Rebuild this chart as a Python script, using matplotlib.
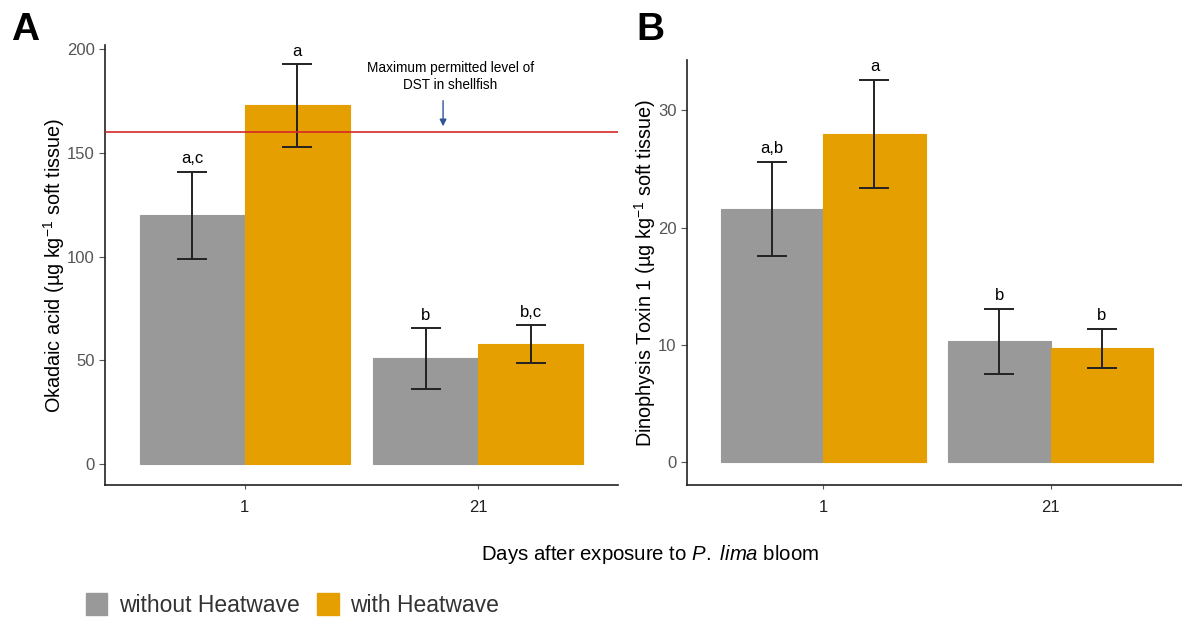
import matplotlib.pyplot as plt
import numpy as np
from matplotlib.patches import Patch

plt.rcParams['font.family'] = ['Liberation Sans', 'DejaVu Sans']
plt.rcParams['mathtext.fontset'] = 'custom'
plt.rcParams['mathtext.rm'] = 'Liberation Sans'
plt.rcParams['mathtext.it'] = 'Liberation Sans:italic'
plt.rcParams['mathtext.default'] = 'regular'

days = ['1', '21']
groups = ['without Heatwave', 'with Heatwave']
colors = ['#999999', '#E69F00']

# okadaic acid, µg/kg
oa_mean = [[120, 51], [173, 58]]
oa_err = [[21, 14.5], [20, 9]]
oa_letters = [['a,c', 'b'], ['a', 'b,c']]
oa_limit = 160

# dinophysis toxin 1, µg/kg
dtx_mean = [[21.6, 10.3], [28.0, 9.7]]
dtx_err = [[4.0, 2.75], [4.6, 1.65]]
dtx_letters = [['a,b', 'b'], ['a', 'b']]

fig = plt.figure(figsize=(11.82, 6.2), dpi=100)
ax1 = fig.add_axes([0.0888, 0.2177, 0.434, 0.7097])
ax2 = fig.add_axes([0.5812, 0.2177, 0.423, 0.6855])

x = np.arange(len(days))
w = 0.45


def draw_panel(ax, means, errs, letters, ylim, yticks, ylabel, pad):
    for i in range(2):
        pos = x + (i - 0.5) * w
        ax.bar(pos, means[i], width=w, color=colors[i], edgecolor=colors[i],
               linewidth=0.8, zorder=2)
        ax.errorbar(pos, means[i], yerr=errs[i], fmt='none', ecolor='#222222',
                    elinewidth=1.4, capsize=10.8, capthick=1.4, zorder=3)
        for p, m, e, lab in zip(pos, means[i], errs[i], letters[i]):
            ax.text(p, m + e + pad, lab, ha='center', va='bottom',
                    fontsize=12, color='black')
    ax.set_xlim(-0.6, 1.6)
    ax.set_ylim(*ylim)
    ax.set_yticks(yticks)
    ax.set_xticks(x)
    ax.set_xticklabels(days, fontsize=12, color='#222222')
    ax.tick_params(axis='y', labelsize=12, colors='#555555', length=4)
    ax.tick_params(axis='x', length=3, color='#555555', pad=8)
    for s in ['top', 'right']:
        ax.spines[s].set_visible(False)
    for s in ['left', 'bottom']:
        ax.spines[s].set_color('#222222')
        ax.spines[s].set_linewidth(1.2)
    ax.set_ylabel(ylabel, fontsize=14.3, labelpad=0)


draw_panel(ax1, oa_mean, oa_err, oa_letters, (-10, 202), [0, 50, 100, 150, 200],
           'Okadaic acid (µg kg$^{-1}$ soft tissue)', 2.5)
draw_panel(ax2, dtx_mean, dtx_err, dtx_letters, (-1.96, 34.3), [0, 10, 20, 30],
           'Dinophysis Toxin 1 (µg kg$^{-1}$ soft tissue)', 0.5)

# regulatory limit line with note
ax1.axhline(oa_limit, color='#D62728', linewidth=1.2, zorder=4)
ax1.annotate('', xy=(0.85, oa_limit + 1.5), xytext=(0.85, oa_limit + 16.5),
             arrowprops=dict(arrowstyle='-|>', color='#2F5597', lw=1.0,
                             mutation_scale=10))
ax1.text(0.88, oa_limit + 19.5, 'Maximum permitted level of\nDST in shellfish',
         ha='center', va='bottom', fontsize=9.8, linespacing=1.25)

fig.text(0.021, 0.952, 'A', fontsize=28, fontweight='bold', ha='center', va='center')
fig.text(0.55, 0.952, 'B', fontsize=28, fontweight='bold', ha='center', va='center')

fig.text(0.55, 0.105, 'Days after exposure to $\\mathit{P.}$ $\\mathit{lima}$ bloom',
         ha='center', va='center', fontsize=14.7)

handles = [Patch(facecolor=c, edgecolor=c) for c in colors]
fig.legend(handles, groups, loc='lower left', bbox_to_anchor=(0.055, -0.028),
           ncol=2, frameon=False, fontsize=16.5, handlelength=0.95, handleheight=1.15,
           columnspacing=0.75, handletextpad=0.5, labelcolor='#333333')

fig.savefig('out.png', dpi=100)
